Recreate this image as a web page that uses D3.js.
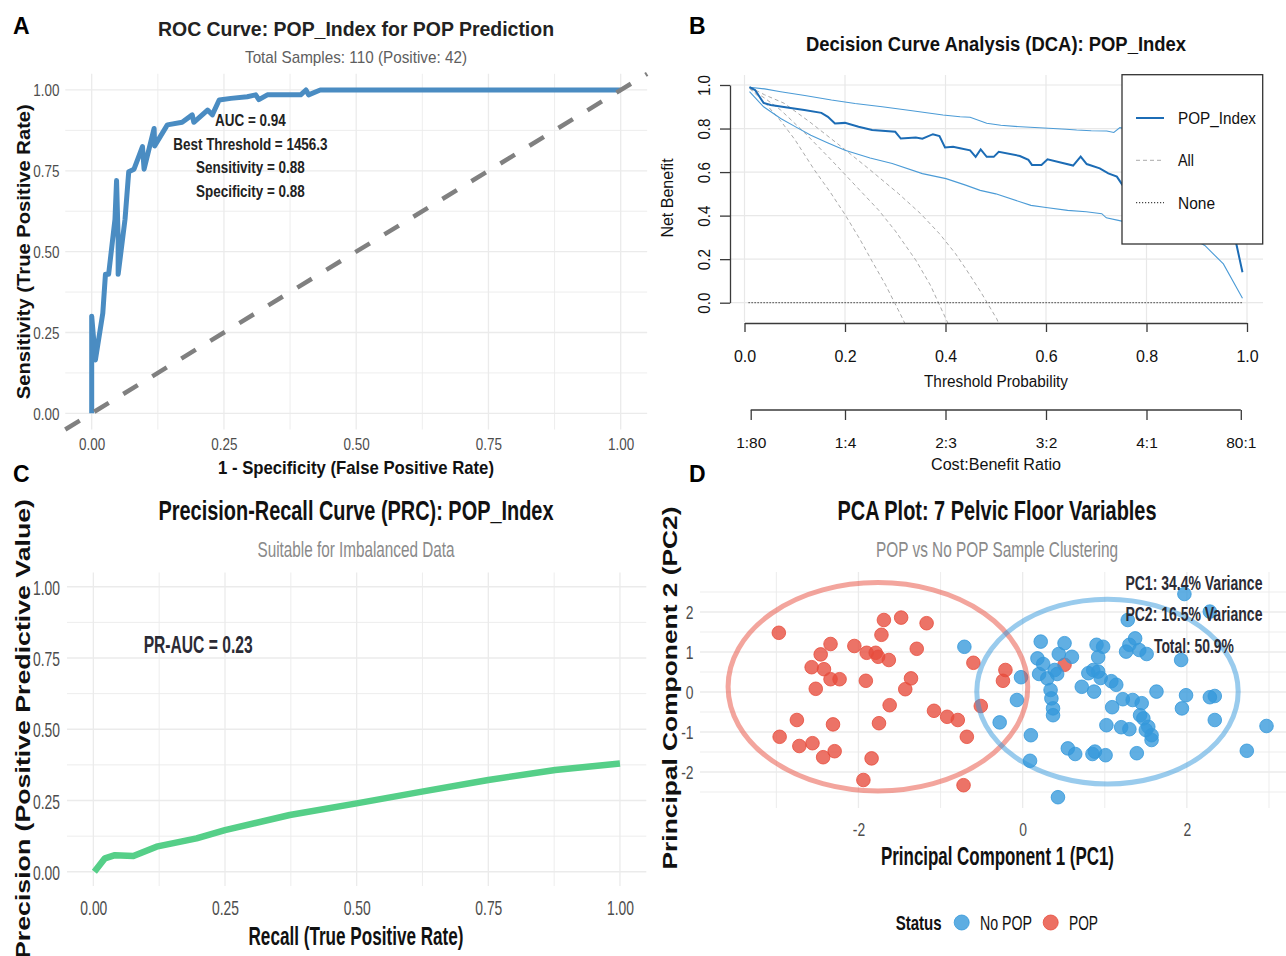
<!DOCTYPE html>
<html>
<head>
<meta charset="utf-8">
<script src="https://cdn.jsdelivr.net/npm/d3@7"></script>
<style>
body{margin:0;background:#fff;}
svg{display:block;}
</style>
</head>
<body>
<div id="chart"></div>
<script>
// ---------- data ----------
// A: ROC curve (1 - specificity, sensitivity)
const rocFpr = [0, 0, 0.007, 0.021, 0.026, 0.032, 0.044, 0.047, 0.050, 0.050, 0.063, 0.070, 0.080, 0.096, 0.099, 0.118, 0.119, 0.143, 0.171, 0.190, 0.193, 0.219, 0.228, 0.241, 0.263, 0.294, 0.310, 0.316, 0.332, 0.395, 0.405, 0.410, 0.432, 1];
const rocTpr = [0, 0.30, 0.165, 0.31, 0.43, 0.43, 0.60, 0.72, 0.54, 0.43, 0.60, 0.747, 0.755, 0.825, 0.755, 0.881, 0.827, 0.892, 0.90, 0.923, 0.90, 0.938, 0.923, 0.969, 0.974, 0.979, 0.985, 0.97, 0.985, 0.985, 1.0, 0.985, 1.0, 1.0];
const rocNotes = ["AUC = 0.94", "Best Threshold = 1456.3", "Sensitivity = 0.88", "Specificity = 0.88"];
const unitTicks = [0, 0.25, 0.5, 0.75, 1];
const unitMinor = [0.125, 0.375, 0.625, 0.875];

// B: decision curve analysis [threshold, net benefit]
const dcaModel = [[0.01,0.99],[0.021,0.977],[0.038,0.918],[0.052,0.908],[0.085,0.897],[0.119,0.885],[0.153,0.872],[0.166,0.854],[0.18,0.823],[0.20,0.826],[0.227,0.808],[0.254,0.793],[0.30,0.785],[0.311,0.754],[0.341,0.759],[0.354,0.753],[0.375,0.774],[0.388,0.765],[0.399,0.713],[0.415,0.716],[0.429,0.709],[0.449,0.70],[0.46,0.67],[0.47,0.704],[0.482,0.67],[0.496,0.67],[0.506,0.693],[0.548,0.674],[0.565,0.656],[0.572,0.633],[0.591,0.633],[0.603,0.659],[0.654,0.63],[0.669,0.671],[0.681,0.637],[0.707,0.617],[0.724,0.594],[0.741,0.579],[0.752,0.541],[0.80,0.49],[0.86,0.42],[0.92,0.36],[0.96,0.31],[0.978,0.278],[0.991,0.14]];
const dcaUpper = [[0.01,0.99],[0.04,0.982],[0.072,0.969],[0.12,0.952],[0.173,0.931],[0.22,0.915],[0.274,0.90],[0.33,0.883],[0.395,0.862],[0.429,0.854],[0.449,0.852],[0.482,0.824],[0.51,0.815],[0.55,0.808],[0.614,0.80],[0.64,0.797],[0.661,0.793],[0.69,0.79],[0.721,0.789],[0.735,0.782],[0.747,0.804],[0.80,0.78],[0.88,0.72],[0.95,0.60],[0.99,0.45]];
const dcaLower = [[0.01,0.969],[0.038,0.90],[0.072,0.846],[0.10,0.81],[0.132,0.769],[0.165,0.735],[0.20,0.70],[0.25,0.665],[0.294,0.639],[0.354,0.593],[0.401,0.570],[0.44,0.54],[0.469,0.516],[0.50,0.50],[0.57,0.447],[0.60,0.437],[0.643,0.424],[0.68,0.418],[0.711,0.409],[0.72,0.39],[0.744,0.378],[0.76,0.37],[0.83,0.34],[0.88,0.31],[0.916,0.263],[0.953,0.178],[0.991,0.02]];
const dcaAllLow = [[0.01,0.985],[0.04,0.92],[0.072,0.835],[0.10,0.75],[0.139,0.61],[0.17,0.51],[0.20,0.405],[0.23,0.29],[0.254,0.19],[0.28,0.085],[0.314,-0.07],[0.33,-0.15]];
const dcaAllMid = [[0.01,0.985],[0.04,0.94],[0.072,0.885],[0.12,0.78],[0.173,0.655],[0.22,0.54],[0.267,0.425],[0.30,0.33],[0.341,0.195],[0.37,0.08],[0.40,-0.07],[0.41,-0.12]];
const dcaAllHigh = [[0.01,0.99],[0.04,0.955],[0.079,0.916],[0.13,0.83],[0.193,0.716],[0.25,0.61],[0.307,0.50],[0.35,0.41],[0.388,0.317],[0.42,0.225],[0.442,0.15],[0.47,0.05],[0.502,-0.074],[0.51,-0.12]];
const dcaNone = [[0.008,0],[0.99,0]];
const dcaTicks = [0, 0.2, 0.4, 0.6, 0.8, 1.0];
const costTicks = [1/81, 0.2, 0.4, 0.6, 0.8, 80/81];
const costLabels = ["1:80", "1:4", "2:3", "3:2", "4:1", "80:1"];
const dcaLegend = ["POP_Index", "All", "None"];

// C: precision-recall curve
const prRecall = [0.002, 0.022, 0.041, 0.076, 0.12, 0.196, 0.25, 0.373, 0.50, 0.624, 0.75, 0.877, 1.0];
const prPrecision = [0.0, 0.047, 0.058, 0.055, 0.088, 0.117, 0.146, 0.199, 0.24, 0.281, 0.322, 0.357, 0.38];

// D: PCA scores [PC1, PC2]
const pcaPOP = [[-2.97,1.48],[-2.34,1.20],[-2.46,0.94],[-2.57,0.62],[-2.42,0.57],[-2.34,0.32],[-2.23,0.32],[-2.52,0.08],[-2.05,1.15],[-1.90,0.98],[-1.79,0.98],[-1.76,0.88],[-1.63,0.80],[-1.69,1.80],[-1.72,1.43],[-1.48,1.86],[-1.17,1.72],[-1.29,1.08],[-1.91,0.28],[-1.36,0.34],[-1.43,0.07],[-1.62,-0.33],[-1.75,-0.78],[-1.08,-0.47],[-0.92,-0.62],[-0.79,-0.70],[-0.68,-1.12],[-2.75,-0.70],[-2.96,-1.12],[-2.72,-1.35],[-2.56,-1.28],[-2.31,-0.81],[-2.29,-1.48],[-2.43,-1.63],[-1.84,-1.66],[-1.94,-2.20],[-0.72,-2.33],[-0.60,0.73],[-0.21,0.55],[-0.24,0.28],[-0.51,-0.35],[0.51,0.68]];
const pcaNoPOP = [[-0.71,1.13],[-0.02,0.37],[-0.07,-0.20],[-0.28,-0.76],[0.10,-1.08],[0.09,-1.72],[0.43,-2.63],[0.22,1.26],[0.18,0.84],[0.20,0.45],[0.30,0.34],[0.39,0.55],[0.44,0.95],[0.51,1.22],[0.60,0.88],[0.42,0.45],[0.34,0.05],[0.35,-0.16],[0.37,-0.41],[0.37,-0.58],[0.55,-1.41],[0.64,-1.55],[0.72,0.13],[0.80,0.47],[0.86,0.55],[0.87,0.01],[0.92,0.51],[0.90,1.18],[0.98,1.13],[0.92,0.87],[0.85,-1.55],[0.88,-1.49],[1.01,-1.58],[1.02,-0.83],[1.09,-0.38],[1.08,0.27],[1.14,0.18],[1.22,-0.18],[1.20,-0.88],[1.30,-0.93],[1.26,1.01],[1.30,1.18],[1.37,1.34],[1.42,1.05],[1.51,0.95],[1.34,-0.20],[1.45,-0.28],[1.43,-0.58],[1.47,-0.66],[1.53,-0.87],[1.57,-1.08],[1.57,-1.20],[1.39,-1.53],[1.63,0.01],[1.93,0.80],[1.99,-0.08],[1.94,-0.41],[1.97,2.45],[2.28,2.01],[1.28,1.80],[2.34,-0.10],[2.28,-0.13],[2.34,-0.70],[2.73,-1.47],[2.97,-0.85],[0.25,0.70],[0.95,0.35],[1.50,-0.95]];
// ellipses: [centre PC1, centre PC2, radius PC1, radius PC2]
const ellipsePOP = [-1.763, 0.13, 1.825, 2.605];
const ellipseNoPOP = [1.033, 0.01, 1.592, 2.31];
const pcaNotes = ["PC1: 34.4% Variance", "PC2: 16.5% Variance", "Total: 50.9%"];
const pcaXTicks = [-2, 0, 2];
const pcaXMinor = [-3, -1, 1, 3];
const pcaYTicks = [-2, -1, 0, 1, 2];
const pcaYMinor = [-2.5, -1.5, -0.5, 0.5, 1.5, 2.5];
const statusLabels = ["No POP", "POP"];

// ---------- setup ----------
const W = 1286, H = 956;
const FONT = '"Liberation Sans", Arial, Helvetica, sans-serif';
const GRID = '#ebebeb';
const BLUE = '#3498db', RED = '#e74c3c';

const svg = d3.select('#chart').append('svg')
  .attr('width', W).attr('height', H)
  .style('font-family', FONT);
svg.append('rect').attr('width', W).attr('height', H).attr('fill', '#fff');

// text helper, len squeezes the text to a given width
function txt(g, s, x, y, o = {}) {
  const t = g.append('text')
    .attr('transform', o.rot ? `translate(${x},${y}) rotate(-90)` : null)
    .attr('x', o.rot ? 0 : x)
    .attr('y', o.rot ? 0 : y)
    .attr('text-anchor', o.anchor || 'middle')
    .attr('font-size', o.size || 14)
    .attr('font-weight', o.bold ? 'bold' : 'normal')
    .attr('fill', o.fill || '#1a1a1a')
    .text(s);
  if (o.len) t.attr('textLength', o.len).attr('lengthAdjust', 'spacingAndGlyphs');
  return t;
}
function squeeze(sel, k) {
  sel.each(function () {
    this.setAttribute('textLength', this.getComputedTextLength() * k);
    this.setAttribute('lengthAdjust', 'spacingAndGlyphs');
  });
}
// ggplot style grid
function ggGrid(g, x, y, xs, ys, w) {
  const [y0, y1] = y.range(), [x0, x1] = x.range();
  g.append('g').selectAll('line').data(xs).join('line')
    .attr('x1', d => x(d)).attr('x2', d => x(d)).attr('y1', y0).attr('y2', y1)
    .attr('stroke', GRID).attr('stroke-width', w);
  g.append('g').selectAll('line').data(ys).join('line')
    .attr('y1', d => y(d)).attr('y2', d => y(d)).attr('x1', x0).attr('x2', x1)
    .attr('stroke', GRID).attr('stroke-width', w);
}
function ggAxisLeft(g, y, xr, vals, fmt, size, k) {
  const a = g.append('g').attr('transform', `translate(${xr},0)`)
    .call(d3.axisLeft(y).tickValues(vals).tickFormat(fmt).tickSize(0).tickPadding(0));
  a.select('.domain').remove();
  a.selectAll('text').attr('font-size', size).attr('font-family', FONT)
    .attr('fill', '#4d4d4d').attr('dy', '0.36em');
  squeeze(a.selectAll('text'), k);
}
function ggAxisBottom(g, x, yb, vals, fmt, size, k) {
  const a = g.append('g').attr('transform', `translate(0,${yb})`)
    .call(d3.axisBottom(x).tickValues(vals).tickFormat(fmt).tickSize(0));
  a.select('.domain').remove();
  a.selectAll('text').attr('y', 0).attr('dy', 0).attr('font-size', size)
    .attr('font-family', FONT).attr('fill', '#4d4d4d');
  squeeze(a.selectAll('text'), k);
}

// panel letters
txt(svg, 'A', 13, 34, {size: 23, bold: true, anchor: 'start', fill: '#000'});
txt(svg, 'B', 689, 34, {size: 23, bold: true, anchor: 'start', fill: '#000'});
txt(svg, 'C', 13, 482, {size: 23, bold: true, anchor: 'start', fill: '#000'});
txt(svg, 'D', 689, 482, {size: 23, bold: true, anchor: 'start', fill: '#000'});

// ---------- A: ROC ----------
const xA = d3.scaleLinear().domain([-0.05, 1.05]).range([65.25, 647.15]);
const yA = d3.scaleLinear().domain([-0.05, 1.05]).range([429.5, 73.8]);
const gA = svg.append('g');
ggGrid(gA, xA, yA, unitMinor, unitMinor, 0.9);
ggGrid(gA, xA, yA, unitTicks, unitTicks, 1.3);

const rocData = rocFpr.map((f, i) => [f, rocTpr[i]]);
gA.append('path').datum(rocData)
  .attr('d', d3.line().x(d => xA(d[0])).y(d => yA(d[1])))
  .attr('fill', 'none').attr('stroke', '#4a8cc2').attr('stroke-width', 5)
  .attr('stroke-linejoin', 'round');
gA.append('path').datum(yA.domain())
  .attr('d', d3.line().x(d => xA(d)).y(d => yA(d)))
  .attr('stroke', '#808080').attr('stroke-width', 4.5).attr('stroke-dasharray', '17,17')
  .attr('fill', 'none');

rocNotes.forEach((s, i) => {
  txt(gA, s, xA(0.30), yA(0.905 - i * 0.0727), {size: 16, bold: true, fill: '#222'})
    .attr('dy', '0.36em').call(t => squeeze(t, 0.84));
});
ggAxisLeft(gA, yA, 59.5, unitTicks, d3.format('.2f'), 16, 0.84);
ggAxisBottom(gA, xA, 450, unitTicks, d3.format('.2f'), 16, 0.84);

txt(gA, 'ROC Curve: POP_Index for POP Prediction', 356, 36, {size: 21, bold: true, len: 396, fill: '#222'});
txt(gA, 'Total Samples: 110 (Positive: 42)', 356, 63, {size: 17, len: 222, fill: '#5e5e5e'});
txt(gA, '1 - Specificity (False Positive Rate)', 356, 474, {size: 19, bold: true, len: 276, fill: '#111'});
txt(gA, 'Sensitivity (True Positive Rate)', 30, 251.7, {size: 19, bold: true, len: 295, rot: true, fill: '#111'});

// ---------- B: DCA ----------
const xB = d3.scaleLinear().domain([0, 1]).range([744.5, 1247]);
const yB = d3.scaleLinear().domain([0, 1]).range([302.7, 85]);
const gB = svg.append('g');
gB.append('g').selectAll('line').data(dcaTicks).join('line')
  .attr('x1', d => xB(d)).attr('x2', d => xB(d)).attr('y1', 75).attr('y2', 322)
  .attr('stroke', '#e8e8e8').attr('stroke-width', 1.2);
gB.append('g').selectAll('line').data(dcaTicks).join('line')
  .attr('x1', 730).attr('x2', 1263).attr('y1', d => yB(d)).attr('y2', d => yB(d))
  .attr('stroke', '#e8e8e8').attr('stroke-width', 1.2);

svg.append('clipPath').attr('id', 'clipB')
  .append('rect').attr('x', 724).attr('y', 75).attr('width', 543).attr('height', 248);
const lineB = d3.line().x(d => xB(d[0])).y(d => yB(d[1]));
const curves = gB.append('g').attr('clip-path', 'url(#clipB)');
[dcaAllLow, dcaAllMid, dcaAllHigh].forEach(c => {
  curves.append('path').datum(c).attr('d', lineB).attr('fill', 'none')
    .attr('stroke', '#ababab').attr('stroke-width', 1).attr('stroke-dasharray', '4,3');
});
curves.append('path').datum(dcaNone).attr('d', lineB).attr('fill', 'none')
  .attr('stroke', '#444').attr('stroke-width', 1.2).attr('stroke-dasharray', '1.2,1.8');
[dcaUpper, dcaLower].forEach(c => {
  curves.append('path').datum(c).attr('d', lineB).attr('fill', 'none')
    .attr('stroke', '#4b9bd6').attr('stroke-width', 1.1);
});
curves.append('path').datum(dcaModel).attr('d', lineB).attr('fill', 'none')
  .attr('stroke', '#1c6cb5').attr('stroke-width', 2);

// axes in base R style
const axB = gB.append('g').attr('transform', 'translate(0,323)')
  .call(d3.axisBottom(xB).tickValues(dcaTicks).tickFormat(d3.format('.1f')).tickSize(9).tickSizeOuter(0));
const ayB = gB.append('g').attr('transform', 'translate(730,0)')
  .call(d3.axisLeft(yB).tickValues(dcaTicks).tickFormat(d3.format('.1f')).tickSize(10).tickSizeOuter(0));
const acB = gB.append('g').attr('transform', 'translate(0,410)')
  .call(d3.axisBottom(xB).tickValues(costTicks).tickFormat((d, i) => costLabels[i]).tickSize(10).tickSizeOuter(0));
acB.select('.domain').attr('d', `M${xB(costTicks[0])},0H${xB(costTicks[costTicks.length - 1])}`);
[axB, ayB, acB].forEach(a => {
  a.selectAll('.domain, line').attr('stroke', '#3a3a3a').attr('stroke-width', 1.3);
  a.selectAll('text').attr('font-family', FONT).attr('fill', '#111');
});
axB.selectAll('text').attr('y', 39).attr('dy', 0).attr('font-size', 16);
acB.selectAll('text').attr('y', 38).attr('dy', 0).attr('font-size', 15.5);
ayB.selectAll('text').attr('x', 0).attr('y', 0).attr('dy', 0)
  .attr('transform', 'translate(-20,0) rotate(-90)').attr('text-anchor', 'middle')
  .attr('font-size', 16);
squeeze(ayB.selectAll('text'), 0.95);

txt(gB, 'Decision Curve Analysis (DCA): POP_Index', 996, 50.7, {size: 20, bold: true, len: 380, fill: '#111'});
txt(gB, 'Threshold Probability', 996, 387, {size: 16, len: 144, fill: '#111'});
txt(gB, 'Cost:Benefit Ratio', 996, 470, {size: 16, len: 130, fill: '#111'});
txt(gB, 'Net Benefit', 672.5, 198, {size: 16, rot: true, fill: '#111'});

// legend
const lgB = gB.append('g');
lgB.append('rect').attr('x', 1122).attr('y', 74.7).attr('width', 140.7).attr('height', 169.3)
  .attr('fill', '#fff').attr('stroke', '#333').attr('stroke-width', 1.3);
const lgStyle = [
  {stroke: '#1c6cb5', w: 2, dash: null},
  {stroke: '#ababab', w: 1, dash: '4,3'},
  {stroke: '#444', w: 1.2, dash: '1.2,1.8'}
];
const lgLen = [78, 16, 37];
dcaLegend.forEach((s, i) => {
  const yy = 118 + i * 42.3;
  lgB.append('line').attr('x1', 1136).attr('x2', 1164).attr('y1', yy).attr('y2', yy)
    .attr('stroke', lgStyle[i].stroke).attr('stroke-width', lgStyle[i].w)
    .attr('stroke-dasharray', lgStyle[i].dash);
  txt(lgB, s, 1178, yy, {size: 17, anchor: 'start', len: lgLen[i], fill: '#111'}).attr('dy', '0.36em');
});

// ---------- C: PR curve ----------
const xC = d3.scaleLinear().domain([-0.05, 1.05]).range([67, 646.3]);
const yC = d3.scaleLinear().domain([-0.05, 1.05]).range([886, 572.5]);
const gC = svg.append('g');
ggGrid(gC, xC, yC, unitMinor, unitMinor, 0.9);
ggGrid(gC, xC, yC, unitTicks, unitTicks, 1.3);
const prData = prRecall.map((r, i) => [r, prPrecision[i]]);
gC.append('path').datum(prData)
  .attr('d', d3.line().x(d => xC(d[0])).y(d => yC(d[1])))
  .attr('fill', 'none').attr('stroke', '#55cf88').attr('stroke-width', 6.5)
  .attr('stroke-linejoin', 'round');
ggAxisLeft(gC, yC, 60, unitTicks, d3.format('.2f'), 21, 0.66);
ggAxisBottom(gC, xC, 915, unitTicks, d3.format('.2f'), 21, 0.66);
txt(gC, 'PR-AUC = 0.23', xC(0.199), yC(0.795), {size: 23, bold: true, len: 109, fill: '#2b2b35'}).attr('dy', '0.36em');
txt(gC, 'Precision-Recall Curve (PRC): POP_Index', 356, 520, {size: 28, bold: true, len: 395, fill: '#111'});
txt(gC, 'Suitable for Imbalanced Data', 356, 557, {size: 22, len: 197, fill: '#8a8a8a'});
txt(gC, 'Recall (True Positive Rate)', 356, 945, {size: 25, bold: true, len: 215, fill: '#111'});
txt(gC, 'Precision (Positive Predictive Value)', 30, 729, {size: 21, bold: true, len: 460, rot: true, fill: '#111'});

// ---------- D: PCA ----------
const xD = d3.scaleLinear().domain([-3.93, 3.3]).range([700, 1293.6]);
const yD = d3.scaleLinear().domain([-2.9, 3.0]).range([808, 572]);
const gD = svg.append('g');
ggGrid(gD, xD, yD, pcaXMinor, pcaYMinor, 0.9);
ggGrid(gD, xD, yD, pcaXTicks, pcaYTicks, 1.3);

const pts = gD.append('g');
[[pcaPOP, RED], [pcaNoPOP, BLUE]].forEach(([set, col]) => {
  pts.append('g').selectAll('circle').data(set).join('circle')
    .attr('cx', d => xD(d[0])).attr('cy', d => yD(d[1])).attr('r', 6.8)
    .attr('fill', col).attr('fill-opacity', 0.78)
    .attr('stroke', col).attr('stroke-opacity', 0.8).attr('stroke-width', 1);
});
[[ellipsePOP, RED], [ellipseNoPOP, BLUE]].forEach(([e, col]) => {
  gD.append('ellipse')
    .attr('cx', xD(e[0])).attr('cy', yD(e[1]))
    .attr('rx', xD(e[0] + e[2]) - xD(e[0])).attr('ry', yD(e[1]) - yD(e[1] + e[3]))
    .attr('fill', 'none').attr('stroke', col).attr('stroke-opacity', 0.5).attr('stroke-width', 5);
});

pcaNotes.forEach((s, i) => {
  txt(gD, s, xD(2.086), yD([2.72, 1.945, 1.155][i]), {size: 20, bold: true, len: [137, 137, 80][i], fill: '#2b2b35'})
    .attr('dy', '0.36em');
});
ggAxisLeft(gD, yD, 693.5, pcaYTicks, d => String(d), 19, 0.73);
ggAxisBottom(gD, xD, 836, pcaXTicks, d => String(d), 19, 0.73);

txt(gD, 'PCA Plot: 7 Pelvic Floor Variables', 997, 520, {size: 28, bold: true, len: 319, fill: '#111'});
txt(gD, 'POP vs No POP Sample Clustering', 997, 557, {size: 22, len: 242, fill: '#8a8a8a'});
txt(gD, 'Principal Component 1 (PC1)', 997.5, 865, {size: 25, bold: true, len: 233, fill: '#111'});
txt(gD, 'Principal Component 2 (PC2)', 676.5, 688, {size: 21, bold: true, len: 363, rot: true, fill: '#111'});

// status legend
const lgD = gD.append('g');
txt(lgD, 'Status', 895.7, 930, {size: 21, bold: true, anchor: 'start', len: 46, fill: '#111'});
const lgDx = [961.7, 1050.7], lgDt = [980, 1069], lgDw = [52, 29];
statusLabels.forEach((s, i) => {
  lgD.append('circle').attr('cx', lgDx[i]).attr('cy', 922.5).attr('r', 7.5)
    .attr('fill', [BLUE, RED][i]).attr('fill-opacity', 0.8)
    .attr('stroke', [BLUE, RED][i]).attr('stroke-opacity', 0.8);
  txt(lgD, s, lgDt[i], 930, {size: 21, anchor: 'start', len: lgDw[i], fill: '#111'});
});
</script>
</body>
</html>
